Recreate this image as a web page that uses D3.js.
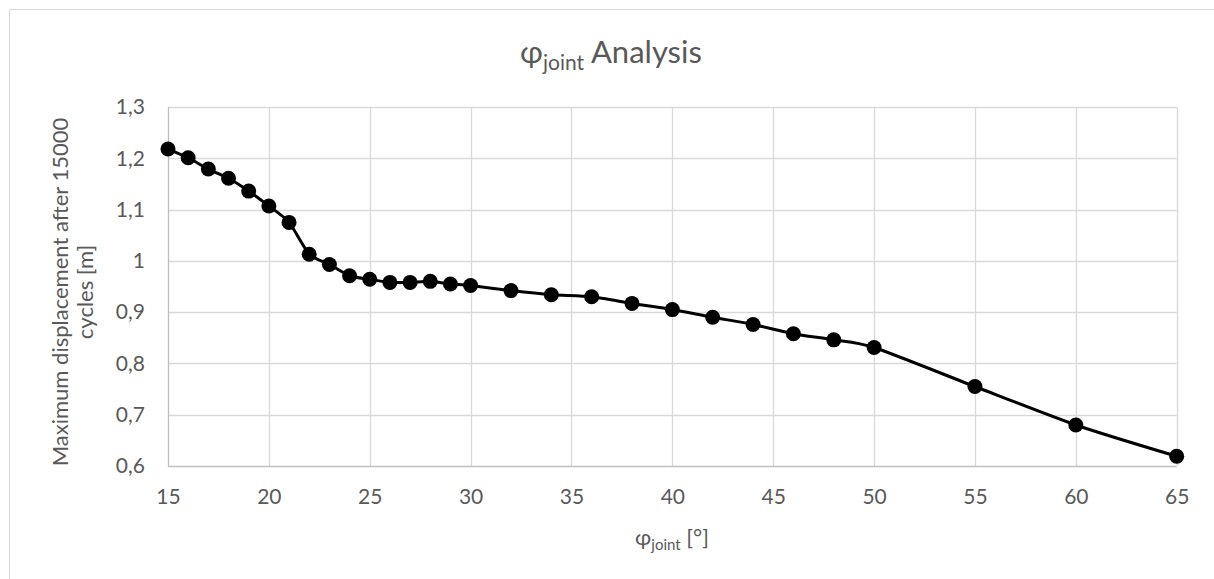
<!DOCTYPE html>
<html>
<head>
<meta charset="utf-8">
<script src="https://cdn.jsdelivr.net/npm/d3@7"></script>
<style>
  html, body { margin: 0; padding: 0; background: #fff; }
  svg { display: block; font-family: Lato, "Open Sans", sans-serif; }
</style>
</head>
<body>
<div id="vis"></div>
<script>
// joint angle [deg] and max displacement [m]
var angles = [15, 16, 17, 18, 19, 20, 21, 22, 23, 24, 25, 26, 27, 28, 29, 30,
              32, 34, 36, 38, 40, 42, 44, 46, 48, 50, 55, 60, 65];
var displacement = [1.218, 1.201, 1.179, 1.161, 1.136, 1.107, 1.075, 1.013, 0.993, 0.971,
                    0.964, 0.958, 0.958, 0.960, 0.955, 0.952,
                    0.942, 0.934, 0.930, 0.917, 0.905, 0.890, 0.876, 0.858, 0.846, 0.831,
                    0.755, 0.680, 0.619];
var xTicks = [15, 20, 25, 30, 35, 40, 45, 50, 55, 60, 65];
var yTicks = [0.6, 0.7, 0.8, 0.9, 1.0, 1.1, 1.2, 1.3];

var width = 1214;
var height = 579;
var textColor = '#595959';
var gridColor = '#d9d9d9';
var axisColor = '#bfbfbf';

var svg = d3.select('#vis')
  .append('svg')
  .attr('width', width)
  .attr('height', height);

// outer chart frame (runs past the window on right and bottom)
svg.append('rect')
  .attr('x', 9.5).attr('y', 9.5)
  .attr('width', width + 20).attr('height', height + 20)
  .attr('fill', '#fff')
  .attr('stroke', gridColor)
  .attr('stroke-width', 1);

var x = d3.scaleLinear().domain([15, 65]).range([168, 1176.7]);
var y = d3.scaleLinear().domain([0.6, 1.3]).range([466, 107]);

var comma = function (d) { return String(+d.toFixed(1)).replace('.', ','); };

// gridlines
svg.append('g').selectAll('line.vg')
  .data(xTicks.slice(1))
  .enter().append('line')
  .attr('x1', function (d) { return Math.round(x(d)) + 0.5; })
  .attr('x2', function (d) { return Math.round(x(d)) + 0.5; })
  .attr('y1', y(1.3)).attr('y2', y(0.6))
  .attr('stroke', gridColor).attr('stroke-width', 1.3);

svg.append('g').selectAll('line.hg')
  .data(yTicks.slice(1))
  .enter().append('line')
  .attr('x1', x(15)).attr('x2', x(65))
  .attr('y1', function (d) { return Math.round(y(d)) + 0.5; })
  .attr('y2', function (d) { return Math.round(y(d)) + 0.5; })
  .attr('stroke', gridColor).attr('stroke-width', 1.3);

// axis lines
svg.append('line')
  .attr('x1', x(15)).attr('x2', x(65))
  .attr('y1', Math.round(y(0.6)) + 0.5).attr('y2', Math.round(y(0.6)) + 0.5)
  .attr('stroke', axisColor).attr('stroke-width', 1.3);
svg.append('line')
  .attr('x1', Math.round(x(15)) + 0.5).attr('x2', Math.round(x(15)) + 0.5)
  .attr('y1', y(1.3)).attr('y2', y(0.6))
  .attr('stroke', axisColor).attr('stroke-width', 1.3);

// tick labels through d3 axes
var xAxis = svg.append('g')
  .attr('transform', 'translate(0,' + y(0.6) + ')')
  .call(d3.axisBottom(x).tickValues(xTicks).tickSize(0).tickPadding(23).tickFormat(d3.format('d')));
var yAxis = svg.append('g')
  .attr('transform', 'translate(' + x(15) + ',0)')
  .call(d3.axisLeft(y).tickValues(yTicks).tickSize(0).tickPadding(23).tickFormat(comma));

[xAxis, yAxis].forEach(function (g) {
  g.select('.domain').remove();
  g.selectAll('text')
    .attr('fill', textColor)
    .style('font-size', '21px')
    .style('font-family', 'Lato, "Open Sans", sans-serif');
});

// series
var pts = angles.map(function (a, i) { return { a: a, v: displacement[i] }; });

var line = d3.line()
  .x(function (d) { return x(d.a); })
  .y(function (d) { return y(d.v); })
  .curve(d3.curveCardinal.tension(0.3));

svg.append('path')
  .datum(pts)
  .attr('d', line)
  .attr('fill', 'none')
  .attr('stroke', '#000')
  .attr('stroke-width', 3)
  .attr('stroke-linejoin', 'round');

svg.append('g').selectAll('circle')
  .data(pts)
  .enter().append('circle')
  .attr('cx', function (d) { return x(d.a); })
  .attr('cy', function (d) { return y(d.v); })
  .attr('r', 7.5)
  .attr('fill', '#000');

// title
var title = svg.append('text')
  .attr('x', 611).attr('y', 63)
  .attr('text-anchor', 'middle')
  .attr('fill', textColor)
  .style('font-size', '31px');
title.append('tspan').text('φ');
title.append('tspan').attr('dy', 7).style('font-size', '21px').text('joint');
title.append('tspan').attr('dy', -7).text(' Analysis');

// x axis title
var xt = svg.append('text')
  .attr('x', 672).attr('y', 545)
  .attr('text-anchor', 'middle')
  .attr('fill', textColor)
  .style('font-size', '22px');
xt.append('tspan').text('φ');
xt.append('tspan').attr('dy', 5).style('font-size', '15px').text('joint');
xt.append('tspan').attr('dy', -5).text(' [°]');

// y axis title, two lines
var yt = svg.append('text')
  .attr('transform', 'translate(0,292) rotate(-90)')
  .attr('text-anchor', 'middle')
  .attr('fill', textColor)
  .style('font-size', '22px');
yt.append('tspan').attr('x', 0).attr('y', 68).text('Maximum displacement after 15000');
yt.append('tspan').attr('x', 0).attr('y', 93).text('cycles [m]');
</script>
</body>
</html>
